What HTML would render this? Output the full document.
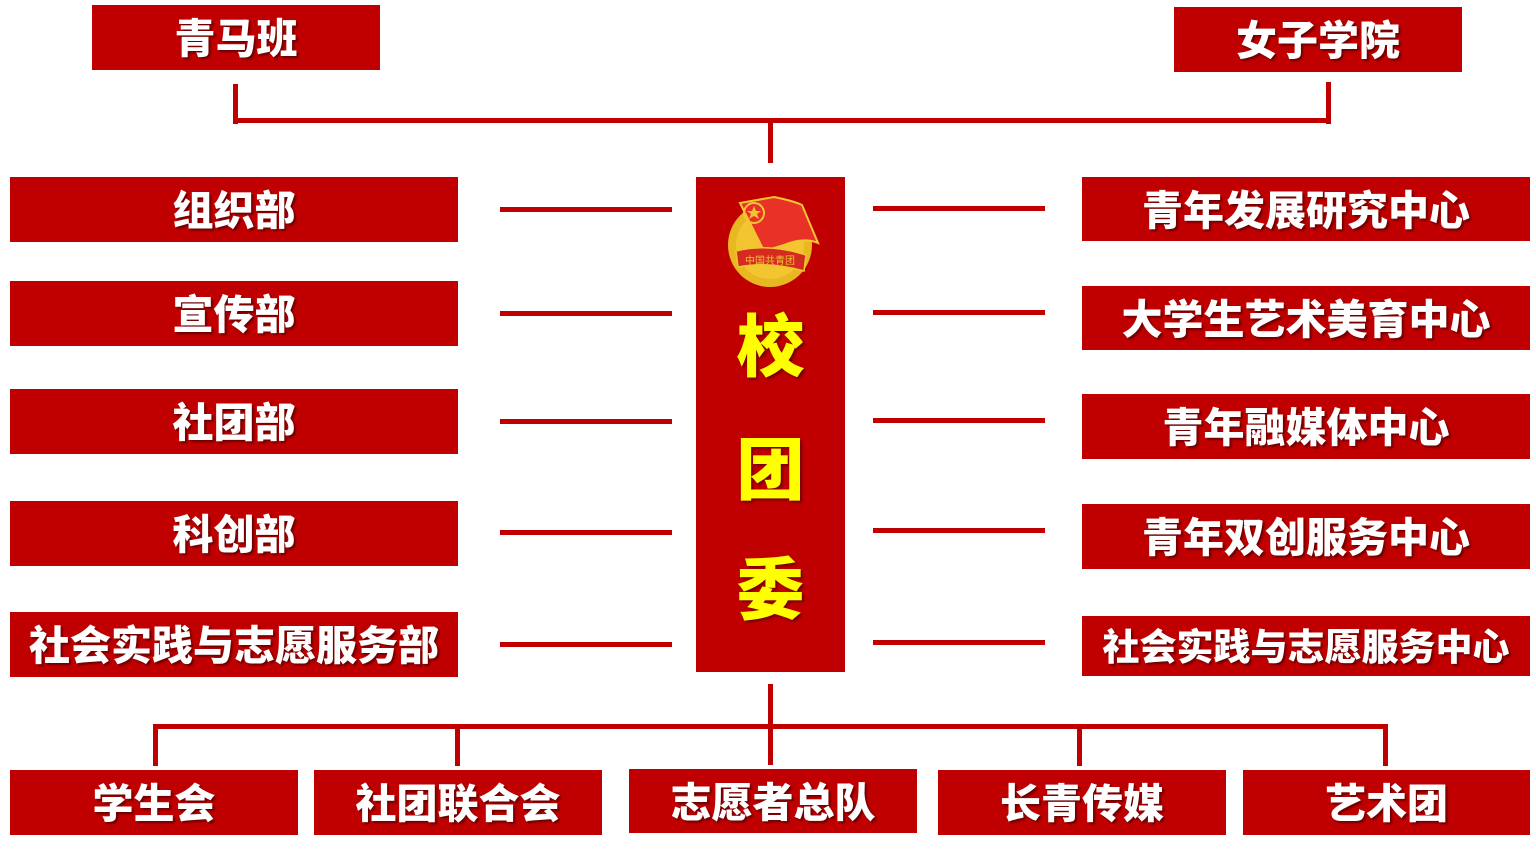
<!DOCTYPE html>
<html><head><meta charset="utf-8"><style>
body{margin:0;width:1536px;height:853px;background:#fff;position:relative;overflow:hidden;font-family:"Liberation Sans","Noto Sans CJK SC",sans-serif}
.b{position:absolute;box-sizing:border-box;padding-bottom:5px;background:#C00000;color:#fff;font-weight:900;font-size:41px;display:flex;align-items:center;justify-content:center;text-shadow:2px 2px 2px rgba(0,0,0,.45);white-space:nowrap;letter-spacing:0}
.l{position:absolute;background:#C00000}
.c{position:absolute;left:696px;width:149px;text-align:center;color:#FFFF00;font-weight:900;font-size:68px;text-shadow:2px 2px 2px rgba(0,0,0,.4)}
</style></head><body>
<div class="b" style="left:92px;top:5px;width:288px;height:65px">青马班</div>
<div class="b" style="left:1174px;top:7px;width:288px;height:65px">女子学院</div>
<div class="l" style="left:233px;top:84px;width:5px;height:40px"></div>
<div class="l" style="left:1326px;top:82px;width:5px;height:42px"></div>
<div class="l" style="left:233px;top:118px;width:1098px;height:5px"></div>
<div class="l" style="left:768px;top:118px;width:5px;height:45px"></div>

<div class="b" style="left:10px;top:177px;width:448px;height:65px">组织部</div>
<div class="b" style="left:10px;top:281px;width:448px;height:65px">宣传部</div>
<div class="b" style="left:10px;top:389px;width:448px;height:65px">社团部</div>
<div class="b" style="left:10px;top:501px;width:448px;height:65px">科创部</div>
<div class="b" style="left:10px;top:612px;width:448px;height:65px">社会实践与志愿服务部</div>

<div class="l" style="left:500px;top:207px;width:172px;height:5px"></div>
<div class="l" style="left:500px;top:311px;width:172px;height:5px"></div>
<div class="l" style="left:500px;top:419px;width:172px;height:5px"></div>
<div class="l" style="left:500px;top:530px;width:172px;height:5px"></div>
<div class="l" style="left:500px;top:642px;width:172px;height:5px"></div>

<div class="l" style="left:696px;top:177px;width:149px;height:495px"></div>
<svg style="position:absolute;left:724px;top:193px" width="100" height="100" viewBox="0 0 100 100">
<circle cx="46" cy="52" r="42" fill="#E8B820"/>
<circle cx="46" cy="52" r="34" fill="#F2C531"/>
<path d="M16 10 L50 4 Q70 8 78 12 L94 50 Q80 44 60 52 L40 58 Z" fill="#E83228" stroke="#F2C531" stroke-width="2"/>
<circle cx="30" cy="20" r="10" fill="none" stroke="#F2C531" stroke-width="2"/>
<polygon points="30,13 32,18 37,18 33,21 35,26 30,23 25,26 27,21 23,18 28,18" fill="#F2C531"/>
<path d="M12 58 Q45 50 82 62 L80 78 Q45 68 14 74 Z" fill="#D42A20" stroke="#F2C531" stroke-width="1.5"/>
<text x="46" y="71" font-size="10" fill="#F2C531" text-anchor="middle" font-family="Noto Sans CJK SC">中国共青团</text>
</svg>
<div class="c" style="top:292px">校</div>
<div class="c" style="top:415px">团</div>
<div class="c" style="top:535px">委</div>

<div class="l" style="left:873px;top:206px;width:172px;height:5px"></div>
<div class="l" style="left:873px;top:310px;width:172px;height:5px"></div>
<div class="l" style="left:873px;top:418px;width:172px;height:5px"></div>
<div class="l" style="left:873px;top:528px;width:172px;height:5px"></div>
<div class="l" style="left:873px;top:640px;width:172px;height:5px"></div>

<div class="b" style="left:1082px;top:177px;width:448px;height:64px">青年发展研究中心</div>
<div class="b" style="left:1082px;top:286px;width:448px;height:64px">大学生艺术美育中心</div>
<div class="b" style="left:1082px;top:394px;width:448px;height:65px">青年融媒体中心</div>
<div class="b" style="left:1082px;top:504px;width:448px;height:65px">青年双创服务中心</div>
<div class="b" style="left:1082px;top:616px;width:448px;height:60px;font-size:37px">社会实践与志愿服务中心</div>

<div class="l" style="left:768px;top:684px;width:5px;height:81px"></div>
<div class="l" style="left:153px;top:724px;width:1235px;height:5px"></div>
<div class="l" style="left:153px;top:724px;width:5px;height:42px"></div>
<div class="l" style="left:455px;top:724px;width:5px;height:42px"></div>
<div class="l" style="left:1077px;top:724px;width:5px;height:42px"></div>
<div class="l" style="left:1383px;top:724px;width:5px;height:42px"></div>

<div class="b" style="left:10px;top:770px;width:288px;height:65px">学生会</div>
<div class="b" style="left:314px;top:770px;width:288px;height:65px">社团联合会</div>
<div class="b" style="left:629px;top:769px;width:288px;height:64px">志愿者总队</div>
<div class="b" style="left:938px;top:770px;width:288px;height:65px">长青传媒</div>
<div class="b" style="left:1243px;top:770px;width:287px;height:65px">艺术团</div>
</body></html>
